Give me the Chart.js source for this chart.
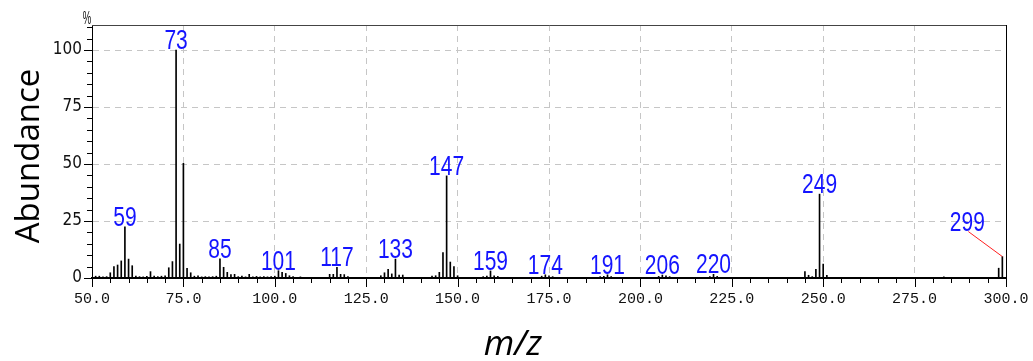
<!DOCTYPE html>
<html>
<head>
<meta charset="utf-8">
<script src="https://cdn.jsdelivr.net/npm/chart.js@4.4.0/dist/chart.umd.min.js"></script>
<style>
    html, body { margin: 0; padding: 0; background: #fff; }
</style>
</head>
<body>
<canvas id="spectrumChart" width="1033" height="361"></canvas>
<script>
// Spectrum lines (m/z and relative abundance, %)
const mzValues = [
    51, 52, 53, 54, 55, 56, 57, 58, 59, 60, 61, 62, 63, 64, 65, 66, 67, 68, 69, 70,
    71, 72, 73, 74, 75, 76, 77, 78, 79, 80, 81, 82, 83, 84, 85, 86, 87, 88, 89, 90,
    91, 92, 93, 94, 95, 96, 97, 98, 99, 100, 101, 102, 103, 104, 105, 107, 115, 116, 117, 118,
    119, 120, 129, 130, 131, 132, 133, 134, 135, 143, 144, 145, 146, 147, 148, 149, 150, 157, 158, 159,
    160, 161, 173, 174, 175, 176, 189, 190, 191, 192, 205, 206, 207, 208, 219, 220, 221, 245, 246, 247,
    248, 249, 250, 251, 283, 298, 299
];
const abundance = [
    0.8, 0.8, 0.5, 0.6, 2.3, 5.0, 5.7, 7.5, 22.4, 8.3, 5.4, 0.8, 0.6, 0.5, 0.7, 2.8, 0.8, 0.6, 0.8, 1.0,
    4.5, 7.2, 100, 14.9, 50.3, 4.2, 2.3, 0.8, 1.0, 0.5, 0.6, 0.5, 0.6, 0.8, 8.4, 4.7, 2.5, 1.5, 1.6, 0.6,
    0.8, 0.5, 1.6, 0.5, 0.7, 0.5, 0.6, 0.5, 0.6, 0.8, 3.2, 2.5, 2.0, 1.0, 0.6, 0.5, 1.6, 1.6, 4.7, 1.6,
    1.5, 0.6, 1.0, 2.3, 3.8, 1.8, 8.3, 1.3, 1.3, 0.8, 1.0, 2.5, 11.1, 44.8, 7.0, 5.0, 1.0, 0.6, 0.8, 3.1,
    1.0, 0.7, 0.8, 1.4, 1.0, 0.6, 0.6, 0.7, 1.4, 0.6, 0.7, 1.3, 0.9, 0.6, 0.6, 1.6, 0.7, 2.8, 1.2, 0.6,
    3.8, 36.8, 6.1, 1.2, 0.5, 4.3, 9.4
];

// Peaks that carry a blue m/z label
const labeledPeaks = [59, 73, 85, 101, 117, 133, 147, 159, 174, 191, 206, 220, 249, 299];

// Tick labels
const xTickLabels = ['50.0', '75.0', '100.0', '125.0', '150.0', '175.0', '200.0', '225.0', '250.0', '275.0', '300.0'];
const yTickLabels = ['0', '25', '50', '75', '100'];

const X_MIN = 50, X_MAX = 300, Y_MAX = 111;
const MAJOR = 25, MINOR = 5;

// Frame, ticks, peak labels and axis titles
const spectrumDecor = {
    id: 'spectrumDecor',
    afterDraw(chart) {
        const { ctx, chartArea: area, scales: { x, y } } = chart;
        ctx.save();

        // top and right border
        ctx.lineWidth = 1;
        ctx.strokeStyle = '#444';
        ctx.beginPath();
        ctx.moveTo(area.left, area.top + 0.5);
        ctx.lineTo(area.right + 0.5, area.top + 0.5);
        ctx.stroke();
        ctx.strokeStyle = '#000';
        ctx.beginPath();
        ctx.moveTo(area.right + 0.5, area.top);
        ctx.lineTo(area.right + 0.5, area.bottom);
        ctx.stroke();

        // outward ticks
        ctx.beginPath();
        for (let v = X_MIN; v <= X_MAX; v += MINOR) {
            const px = Math.round(x.getPixelForValue(v)) + 0.5;
            ctx.moveTo(px, area.bottom);
            ctx.lineTo(px, area.bottom + (v % MAJOR === 0 ? 9 : 5));
        }
        for (let v = 0; v < Y_MAX; v += MINOR) {
            const py = Math.round(y.getPixelForValue(v)) + 0.5;
            ctx.moveTo(area.left, py);
            ctx.lineTo(area.left - (v % MAJOR === 0 ? 8 : 5), py);
        }
        ctx.stroke();

        // "%" unit above the y axis
        ctx.fillStyle = '#111';
        ctx.font = '19px "Liberation Sans", sans-serif';
        ctx.textAlign = 'center';
        ctx.textBaseline = 'alphabetic';
        ctx.save();
        ctx.translate(area.left - 5, area.top - 1);
        ctx.scale(0.5, 1);
        ctx.fillText('%', 0, 0);
        ctx.restore();

        // peak labels
        ctx.font = '28px "Liberation Sans", sans-serif';
        labeledPeaks.forEach(mz => {
            const i = mzValues.indexOf(mz);
            let px = x.getPixelForValue(mz);
            let py = y.getPixelForValue(abundance[i]);
            if (mz === 299) {
                // label pulled to the left with a red leader line
                ctx.strokeStyle = '#ff2020';
                ctx.beginPath();
                ctx.moveTo(px, py);
                ctx.lineTo(px - 34, py - 25);
                ctx.stroke();
                px -= 35;
                py -= 25;
            }
            ctx.fillStyle = '#1414ff';
            ctx.save();
            ctx.translate(px, py - 1);
            ctx.scale(0.75, 1);
            ctx.fillText(String(mz), 0, 0);
            ctx.restore();
        });

        // axis titles
        ctx.fillStyle = '#000';
        ctx.font = '33px "Open Sans", sans-serif';
        ctx.save();
        ctx.translate(39, 156);
        ctx.rotate(-Math.PI / 2);
        ctx.fillText('Abundance', 0, 0);
        ctx.restore();
        ctx.font = 'italic 35px "Open Sans", sans-serif';
        ctx.fillText('m/z', 513, 355);

        ctx.restore();
    }
};

function gridColor(ctx, lo, hi) {
    const v = ctx.tick ? ctx.tick.value : null;
    return (v !== null && v % MAJOR === 0 && v > lo && v < hi) ? '#c6c6c6' : 'rgba(0,0,0,0)';
}

// Build the chart
function generateChart() {
    const chartCtx = document.getElementById('spectrumChart').getContext('2d');
    new Chart(chartCtx, {
        type: 'bar',
        data: {
            datasets: [{
                data: mzValues.map((mz, i) => ({ x: mz, y: abundance[i] })),
                backgroundColor: '#000',
                borderWidth: 0,
                barThickness: 1
            }]
        },
        options: {
            responsive: false,
            animation: false,
            devicePixelRatio: 1,
            layout: { padding: { top: 25, right: 27, left: 0, bottom: 0 } },
            plugins: {
                legend: { display: false },
                tooltip: { enabled: false }
            },
            scales: {
                x: {
                    type: 'linear',
                    min: X_MIN,
                    max: X_MAX,
                    offset: false,
                    afterFit(scale) {
                        scale.height = 83;
                        scale.paddingLeft = 0;
                        scale.paddingRight = 0;
                    },
                    grid: {
                        offset: false,
                        drawTicks: false,
                        lineWidth: 1,
                        color: c => gridColor(c, X_MIN, X_MAX)
                    },
                    border: { display: true, color: '#000', width: 2, dash: [6, 5] },
                    ticks: {
                        stepSize: MINOR,
                        autoSkip: false,
                        maxRotation: 0,
                        padding: 12,
                        color: '#111',
                        font: { family: '"Liberation Mono", monospace', size: 15 },
                        callback: v => v % MAJOR === 0 ? xTickLabels[(v - X_MIN) / MAJOR] : ''
                    }
                },
                y: {
                    min: 0,
                    max: Y_MAX,
                    afterFit(scale) {
                        scale.width = 92;
                        scale.paddingTop = 0;
                        scale.paddingBottom = 0;
                    },
                    grid: {
                        drawTicks: false,
                        lineWidth: 1,
                        color: c => gridColor(c, 0, Y_MAX)
                    },
                    border: { display: true, color: '#000', width: 1, dash: [6, 5] },
                    ticks: {
                        stepSize: MINOR,
                        autoSkip: false,
                        padding: 10,
                        color: '#111',
                        font: { family: '"Liberation Sans Narrow", "DejaVu Sans Condensed", sans-serif', size: 17 },
                        callback: v => (v % MAJOR === 0 && v / MAJOR < yTickLabels.length) ? yTickLabels[v / MAJOR] : ''
                    }
                }
            }
        },
        plugins: [spectrumDecor]
    });
}

document.addEventListener('DOMContentLoaded', generateChart);
</script>
</body>
</html>
